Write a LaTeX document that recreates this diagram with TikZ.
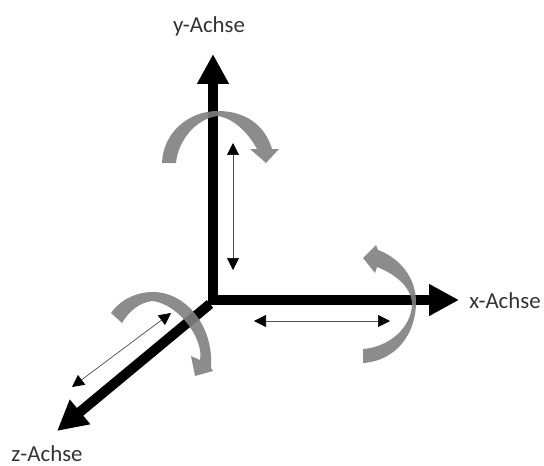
\documentclass[tikz,border=0pt]{standalone}
\usepackage{fontspec}
\setmainfont{Carlito}
\usetikzlibrary{arrows.meta}

\begin{document}
\begin{tikzpicture}[
    x=0.02cm, y=-0.02cm,
    axis/.style={-{Triangle[length=0.6cm, width=0.6cm]}, line width=0.2cm, black},
    move/.style={{Triangle[length=0.24cm, width=0.24cm, black]}-{Triangle[length=0.24cm, width=0.24cm, black]}, line width=0.4pt, black!70},
    rot/.style={fill=black!50, draw=none, fill opacity=0.9},
    label/.style={font=\fontsize{13}{15}\selectfont, text=black!80, inner sep=0pt},
  ]
    \useasboundingbox (0,0) rectangle (544,466);

    % Origin and axis ends
    \coordinate (ybase) at (213,305);
    \coordinate (ytip) at (213,54);
    \coordinate (xbase) at (208,300);
    \coordinate (xtip) at (459,300);
    \coordinate (zbase) at (210,304);
    \coordinate (ztip) at (57,431);

    % Axes
    \draw[axis] (ybase) -- (ytip);
    \draw[axis] (xbase) -- (xtip);
    \draw[axis] (zbase) -- (ztip);

    % Labels
    \node[label] (ylabel) at (209,26) {y-Achse};
    \node[label] (xlabel) at (505,301) {x-Achse};
    \node[label] (zlabel) at (47,454) {z-Achse};

    % Translation arrows
    \coordinate (ya) at (233,143);
    \coordinate (yb) at (233,270);
    \coordinate (xa) at (254,321);
    \coordinate (xb) at (390,321);
    \coordinate (za) at (171,313);
    \coordinate (zb) at (72,387);
    \draw[move] (ya) -- (yb);
    \draw[move] (xa) -- (xb);
    \draw[move] (za) -- (zb);

    % Rotation arrow around y
    \fill[rot] (162,163) .. controls (163,133) and (188,111) .. (218,111)
      .. controls (245,111) and (265,125) .. (272,149) -- (279,149) -- (266,163) -- (250,149) -- (257,149)
      .. controls (250,136) and (236,119) .. (218,116)
      .. controls (197,118) and (178,140) .. (176,163) -- cycle;

    % Rotation arrow around x
    \fill[rot] (363,363) .. controls (395,361) and (416,335) .. (416,302)
      .. controls (416,278) and (400,258) .. (378,250) -- (376,245) -- (363,258) -- (375,273) -- (377,267)
      .. controls (395,274) and (412,287) .. (412,305)
      .. controls (411,327) and (390,347) .. (363,349) -- cycle;

    % Rotation arrow around z
    \fill[rot] (111,313) .. controls (120,300) and (136,292) .. (153,292)
      .. controls (185,292) and (214,325) .. (211,368) -- (213,371) -- (195,376) -- (191,356) -- (200,360)
      .. controls (204,340) and (180,305) .. (153,301)
      .. controls (140,302) and (129,311) .. (122,323) -- cycle;
\end{tikzpicture}
\end{document}
